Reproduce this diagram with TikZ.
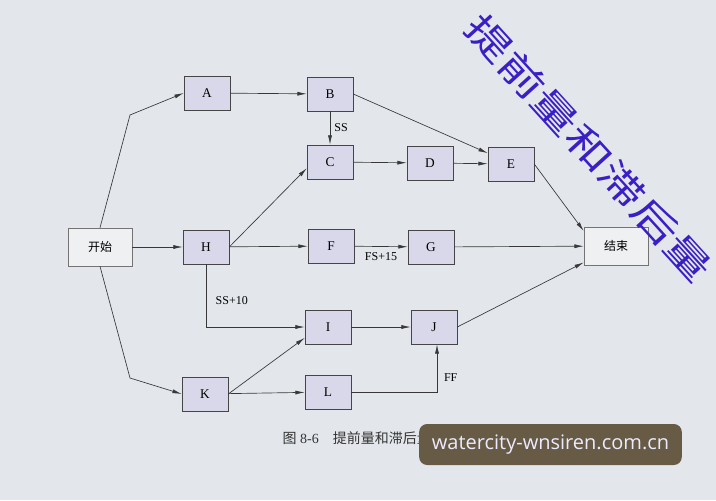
\documentclass[tikz,border=0pt]{standalone}
\usepackage{fontspec}
\setmainfont{Liberation Serif}
\newfontfamily\cjk{Noto Sans CJK SC}
\newfontfamily\wmfont{Open Sans}
\usetikzlibrary{arrows.meta,calc,positioning}
\definecolor{bgpage}{HTML}{E3E7EB}
\definecolor{boxfill}{HTML}{D8D8EA}
\definecolor{boxline}{HTML}{454545}
\definecolor{endfill}{HTML}{EFF0F1}
\definecolor{wmblue}{HTML}{3B1FC6}
\definecolor{wmbox}{HTML}{675B45}

\begin{document}
\begin{tikzpicture}[x=0.75pt,y=-0.75pt,>={Latex[length=7pt,width=3pt]},
    act/.style={draw=boxline,fill=boxfill,minimum width=34.5pt,minimum height=25.5pt,inner sep=0pt,font=\fontsize{10}{12}\selectfont},
    term/.style={draw=black!55,fill=endfill,minimum width=48pt,minimum height=28.5pt,inner sep=0pt,font=\cjk\fontsize{9}{11}\selectfont},
    lag/.style={font=\fontsize{9}{11}\selectfont,inner sep=1pt},
    link/.style={->,draw=black!78,line width=0.5pt},
    stamp/.style={rotate=-47.7,yscale=0.74,font=\cjk\fontsize{37}{37}\selectfont}]
        \fill[bgpage] (0,0) rectangle (716,500);
        \useasboundingbox (0,0) rectangle (716,500);
        % activities
        \node[term] (start) at (100,247) {开始};
        \node[term] (finish) at (616,246) {结束};
        \foreach \n/\x/\y in {A/207/93,B/330/94,C/330/162,D/430/163,E/511/164,H/206/247,F/331/246,G/431/247,I/328/327,J/434/327,K/205/394,L/328/392}
          \node[act] (\n) at (\x,\y) {\n};
        \coordinate (up) at (130,115);
        \coordinate (down) at (130,378);
        % links
        \draw[link] (start.north) -- (up) -- (A.west);
        \draw[link] (start) -- (H);
        \draw[link] (start.south) -- (down) -- (K.west);
        \draw[link] (A) -- (B);
        \draw[link] (B) -- node[lag,right=2pt]{SS} (C);
        \draw[link] (B.east) -- (E.155);
        \draw[link] (C) -- (D);
        \draw[link] (D) -- (E);
        \draw[link] (E.east) -- (finish.155);
        \draw[link] (H.east) -- (C.195);
        \draw[link] (H) -- (F);
        \draw[link] (F) -- node[lag,below=3pt]{FS+15} (G);
        \draw[link] (G) -- (finish);
        \draw[link] (H) |- node[lag,pos=0.29,right=6pt]{SS+10} (I);
        \draw[link] (I) -- (J);
        \draw[link] (J.east) -- (finish.207);
        \draw[link] (K.east) -- (I.205);
        \draw[link] (K) -- (L);
        \draw[link] (L.east) -| node[lag,pos=0.65,right=4pt]{FF} ($(J.south)+(3,0)$);
        % caption and marks
        \node[anchor=west,font=\fontsize{10.5}{12}\selectfont,text=black!80] (caption) at (278,438) {{\cjk 图} 8-6\quad{\cjk 提前量和滞后量}};
        \node[fill=wmbox,rounded corners=6pt,minimum width=197pt,minimum height=30.75pt,text=white!92!blue,font=\wmfont\fontsize{15}{17}\selectfont] (site) at (550.5,444.5) {watercity-wnsiren.com.cn};
        \node[stamp,text=wmblue] (title) at (589,148) {提前量和滞后量};
      \end{tikzpicture}
\end{document}
